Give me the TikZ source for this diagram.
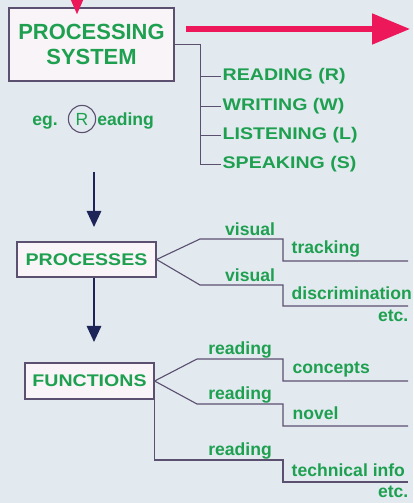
\documentclass[tikz,border=0pt]{standalone}
\usepackage{fontspec}
\setmainfont{Liberation Sans}
\newfontfamily\widesf[FakeStretch=1.16]{Liberation Sans}
\usetikzlibrary{arrows.meta,positioning}
\definecolor{bgc}{RGB}{226,234,240}
\definecolor{boxc}{RGB}{248,244,247}
\definecolor{greenc}{RGB}{30,160,80}
\definecolor{linec}{RGB}{92,80,112}
\definecolor{navyc}{RGB}{28,36,88}
\definecolor{pinkc}{RGB}{236,24,90}

\begin{document}
\begin{tikzpicture}[x=0.025cm,y=-0.025cm,
  box/.style={draw=linec,fill=boxc,line width=0.8pt,text=greenc,inner sep=0pt,font=\widesf\bfseries\fontsize{12}{14}\selectfont},
  capsl/.style={text=greenc,inner sep=1pt,font=\widesf\bfseries\fontsize{12}{14}\selectfont},
  lbl/.style={text=greenc,inner sep=1pt,font=\bfseries\fontsize{12.5}{14}\selectfont},
  line/.style={draw=linec,line width=0.8pt},
  navy/.style={draw=navyc,line width=1.3pt,-{Triangle[length=0.4cm,width=0.36cm]}},
  pink/.style={draw=pinkc,line width=3.6pt}]
\fill[bgc] (0,0) rectangle (413,503);
\useasboundingbox (0,0) rectangle (413,503);

\node[box,minimum width=4.125cm,minimum height=1.825cm,align=center,font=\bfseries\fontsize{15.6}{17.8}\selectfont] (ps) at (91.5,44.5) {PROCESSING\\SYSTEM};
\node[box,minimum width=3.475cm,minimum height=0.875cm] (proc) at (86.5,259.5) {PROCESSES};
\node[box,minimum width=3.225cm,minimum height=0.9cm] (func) at (89.5,381) {FUNCTIONS};

\coordinate (in) at (77,0);
\coordinate (out) at (410,29);
\draw[pinkc,line width=2pt,-{Triangle[length=0.375cm,width=0.3cm]}] (in) -- ([yshift=-0.175cm]in |- ps.north);
\draw[pink,-{Triangle[length=0.95cm,width=0.75cm]}] (ps.east |- out) ++(11,0) -- (out);

\node[capsl,anchor=base west] (rd) at (221,81) {READING (R)};
\node[capsl,anchor=base west] (wr) at (221,111) {WRITING (W)};
\node[capsl,anchor=base west] (ls) at (221,140) {LISTENING (L)};
\node[capsl,anchor=base west] (sp) at (221,169) {SPEAKING (S)};
\draw[line] (ps.east) -- ++(26,0) coordinate (bk) |- (sp.west);
\foreach \n in {rd,wr,ls}
  \draw[line] (bk |- \n.west) -- (\n.west);

\node[lbl,anchor=base west,inner sep=0pt] (eg) at (32,126) {eg.};
\node[circle,draw=linec,line width=0.8pt,minimum size=0.68cm,inner sep=0pt,text=greenc,font=\fontsize{12.5}{14}\selectfont] (rc) at (82,119) {R};
\node[lbl,anchor=base west,inner sep=0pt] (ead) at (97,126) {eading};

\coordinate (a1) at (94,172);
\coordinate (a1e) at (94,227);
\coordinate (a2e) at (94,342);
\draw[navy] (a1) -- (a1e);
\draw[navy] (proc.south -| a1) -- (a2e);

\coordinate (t1) at (408,261);
\coordinate (t2) at (408,306);
\draw[line] (proc.east) -- (200,239) -| (283,261) -- (t1);
\draw[line] (proc.east) -- (200,285) -| (283,306) -- (t2);
\node[lbl,anchor=base] (vis1) at (250,236) {visual};
\node[lbl,anchor=base west] (trk) at (290,254) {tracking};
\node[lbl,anchor=base] (vis2) at (250,281) {visual};
\node[lbl,anchor=base west] (dis) at (290,299) {discrimination};
\node[lbl,anchor=base east] (etc1) at (410,321) {etc.};

\coordinate (t3) at (408,381);
\coordinate (t4) at (408,426);
\coordinate (t5) at (408,482);
\draw[line] (func.east) -- (197,359) -| (283,381) -- (t3);
\draw[line] (func.east) -- (197,404) -| (283,426) -- (t4);
\draw[line] (func.south east) |- (283,460) -- (283,482) -- (t5);
\node[lbl,anchor=base] (rd1) at (240,354) {reading};
\node[lbl,anchor=base west] (cpt) at (291,373) {concepts};
\node[lbl,anchor=base] (rd2) at (240,399) {reading};
\node[lbl,anchor=base west] (nov) at (291,419) {novel};
\node[lbl,anchor=base] (rd3) at (240,455) {reading};
\node[lbl,anchor=base west] (tec) at (290,476) {technical info};
\node[lbl,anchor=base east] (etc2) at (410,497) {etc.};
\end{tikzpicture}
\end{document}
